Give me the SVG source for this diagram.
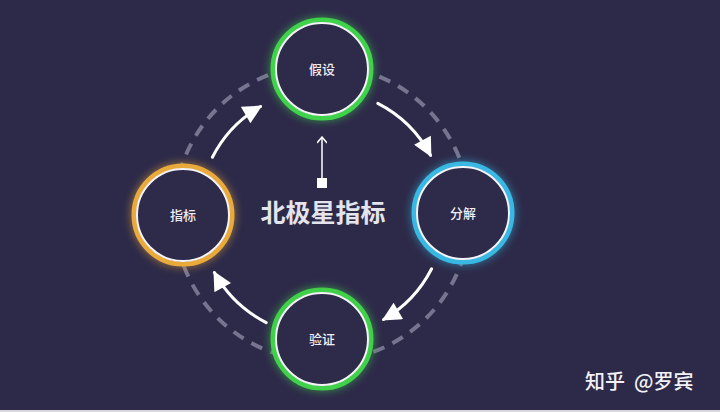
<svg xmlns="http://www.w3.org/2000/svg" width="720" height="412" viewBox="0 0 720 412">
<defs>
<style>
.bg{fill:#2d2a49}
.dash{fill:none;stroke:#76748f;stroke-width:4;stroke-dasharray:12 9}
.ring{fill:#2d2a49;stroke-width:5}
.inner{fill:none;stroke:#f4f4f8;stroke-width:2}
.lbl{font-family:"Noto Sans CJK SC","Noto Sans",sans-serif;font-size:13px;font-weight:500;fill:#eeeef4;text-anchor:middle}
.title{font-family:"Noto Sans CJK SC","Noto Sans",sans-serif;font-size:25px;font-weight:700;fill:#e4e4ec;text-anchor:middle}
.wm{font-family:"Noto Sans CJK SC","Noto Sans",sans-serif;font-size:20px;font-weight:500;fill:#f2f2f6}
.arc{fill:none;stroke:#ffffff;stroke-width:3;stroke-linecap:round}
</style>
<filter id="glow" x="-40%" y="-40%" width="180%" height="180%">
<feGaussianBlur in="SourceGraphic" stdDeviation="4" result="b1"/>
<feComponentTransfer in="b1" result="b2"><feFuncA type="linear" slope="0.7"/></feComponentTransfer>
<feMerge><feMergeNode in="b2"/><feMergeNode in="SourceGraphic"/></feMerge>
</filter>
<marker id="ah" viewBox="0 0 10 10" refX="9" refY="5" markerUnits="userSpaceOnUse" markerWidth="20" markerHeight="19" orient="auto">
<path d="M0,0 L10,5 L0,10 z" fill="#ffffff"/>
</marker>
<marker id="open" viewBox="0 0 10 10" refX="5" refY="1" markerUnits="userSpaceOnUse" markerWidth="10" markerHeight="10" orient="0">
<path d="M0,7 L5,1 L10,7" fill="none" stroke="#ffffff" stroke-width="1.5"/>
</marker>
</defs>
<rect class="bg" x="0" y="0" width="720" height="412"/>
<rect x="0" y="410" width="720" height="2" fill="#d8d8de"/>
<g id="connectors">
<circle class="dash" cx="322" cy="213" r="148"/>
<path class="arc" d="M212.4,157.2 A123,123 0 0 1 260.5,106.5" marker-end="url(#ah)"/>
<path class="arc" d="M377.8,103.4 A123,123 0 0 1 430.5,155.3" marker-end="url(#ah)"/>
<path class="arc" d="M431.6,268.8 A123,123 0 0 1 383.5,319.5" marker-end="url(#ah)"/>
<path class="arc" d="M266.2,322.6 A123,123 0 0 1 214.4,272.6" marker-end="url(#ah)"/>
<line x1="322" y1="178" x2="322" y2="137" stroke="#ffffff" stroke-width="1.5" marker-end="url(#open)"/>
<rect x="317" y="178" width="10" height="10" fill="#ffffff"/>
</g>
<g id="node-jiashe">
<circle class="ring" cx="322" cy="69" r="49" stroke="#3fd24c" filter="url(#glow)"/>
<circle class="inner" cx="322" cy="69" r="46"/>
<text class="lbl" x="322" y="74">假设</text>
</g>
<g id="node-fenjie">
<circle class="ring" cx="463" cy="213" r="49" stroke="#37b8e2" filter="url(#glow)"/>
<circle class="inner" cx="463" cy="213" r="46"/>
<text class="lbl" x="463" y="218">分解</text>
</g>
<g id="node-zhibiao">
<circle class="ring" cx="183" cy="215" r="49" stroke="#e9a93b" filter="url(#glow)"/>
<circle class="inner" cx="183" cy="215" r="46"/>
<text class="lbl" x="183" y="220">指标</text>
</g>
<g id="node-yanzheng">
<circle class="ring" cx="322" cy="339" r="49" stroke="#41d04a" filter="url(#glow)"/>
<circle class="inner" cx="322" cy="339" r="46"/>
<text class="lbl" x="322" y="344">验证</text>
</g>
<g id="center-title">
<text class="title" x="323" y="222">北极星指标</text>
</g>
<text class="wm" x="585" y="389" xml:space="preserve">知乎  @罗宾</text>
</svg>
